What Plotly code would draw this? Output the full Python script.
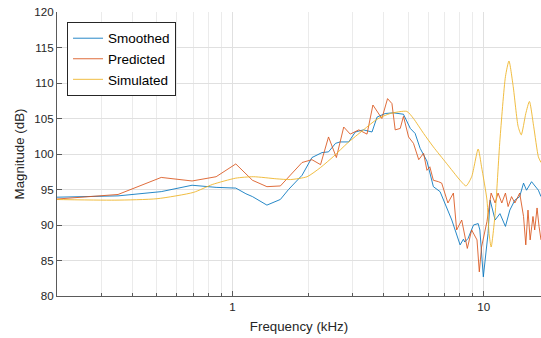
import plotly.graph_objects as go
import math

# Smoothed (blue)
smoothed_f = [0.19, 0.35, 0.52, 0.69, 0.86, 1.03, 1.13, 1.2, 1.37, 1.55, 1.67, 1.89, 2.07, 2.27, 2.41, 2.57, 2.68, 2.9,
              3.08, 3.32, 3.59, 3.76, 4.05, 4.37, 4.79, 5.10, 5.33, 5.58, 5.94, 6.30, 6.7, 7.1, 7.46, 8.05, 8.3, 8.4,
              8.66, 9.1, 9.5, 9.65, 9.96, 10.4, 10.6, 11.1, 11.6, 12.2, 12.7, 13.3, 13.9, 14.4, 14.8, 15.5, 16.0,
              16.5, 16.9]
smoothed_db = [93.9, 94.1, 94.7, 95.6, 95.3, 95.2, 94.4, 94.0, 92.8, 93.6, 95.0, 97.0, 99.5, 100.2, 100.3, 101.5, 101.7,
               101.7, 103.1, 103.4, 103.1, 105.2, 105.7, 105.8, 105.6, 103.6, 102.9, 100.8, 99.0, 95.4, 94.7, 92.6,
               90.7, 87.2, 88.0, 87.6, 88.1, 90.0, 90.2, 89.3, 82.7, 88.8, 93.5, 90.7, 91.6, 89.8, 92.1, 93.5, 94.0,
               95.9, 94.9, 96.1, 95.4, 94.9, 94.0]

# Predicted (orange)
predicted_f = [0.19, 0.35, 0.52, 0.69, 0.86, 1.03, 1.2, 1.37, 1.55, 1.89, 2.07, 2.24, 2.41, 2.59, 2.77, 2.94, 3.18,
               3.43, 3.62, 3.93, 4.14, 4.31, 4.44, 4.65, 4.79, 5.02, 5.25, 5.51, 5.76, 5.94, 6.1, 6.3, 6.6, 6.8, 7.2,
               7.57, 7.8, 8.17, 8.6, 8.95, 9.4, 9.6, 9.8, 10.3, 10.7, 11.1, 11.4, 11.8, 12.2, 12.5, 12.9, 13.3, 13.9,
               14.4, 14.7, 15.0, 15.3, 15.7, 15.95, 16.3, 16.6, 16.9]
predicted_db = [93.6, 94.3, 96.7, 96.2, 96.8, 98.6, 96.3, 95.4, 95.5, 98.8, 99.2, 98.5, 102.4, 99.5, 103.8, 102.8,
                103.4, 102.8, 106.9, 105.0, 107.8, 107.1, 103.4, 103.6, 105.3, 102.4, 101.5, 99.2, 100.1, 97.7, 98.2,
                96.3, 96.1, 95.9, 93.1, 94.5, 89.3, 90.7, 86.7, 89.3, 87.9, 83.4, 86.9, 90.5, 94.5, 93.1, 94.5, 93.1,
                94.5, 92.6, 94.0, 93.1, 94.5, 91.2, 87.2, 92.1, 87.9, 91.2, 89.3, 92.4, 89.8, 87.9]

# Simulated (yellow)
simulated_f = [0.19, 0.34, 0.5, 0.7, 0.83, 1.03, 1.21, 1.5, 1.70, 1.98, 2.24, 2.53, 2.86, 3.32, 3.76, 4.24, 4.94,
               5.25, 5.76, 6.30, 7.1, 8.05, 8.5, 8.95, 9.5, 9.8, 10.3, 10.5, 10.7, 11.1, 11.6, 12.2, 12.6, 13.1, 13.7,
               14.1, 14.7, 15.2, 15.8, 16.5, 16.9]
simulated_db = [93.6, 93.5, 93.7, 94.6, 95.7, 96.6, 96.8, 96.5, 96.4, 96.8, 98.1, 99.7, 101.5, 103.4, 104.9, 105.7,
                106.0, 105.0, 102.9, 101.0, 98.7, 96.3, 95.5, 96.8, 100.7, 98.2, 93.5, 88.8, 86.9, 91.6, 102.0, 110.9,
                113.1, 109.5, 103.9, 102.7, 105.7, 107.4, 103.9, 99.6, 98.8]

x_tickvals = [1, 10]
x_ticktext = ["1", "10"]
x_minor = [0.2, 0.3, 0.4, 0.5, 0.6, 0.7, 0.8, 0.9, 2, 3, 4, 5, 6, 7, 8, 9, 20]
y_tickvals = [80, 85, 90, 95, 100, 105, 110, 115, 120]

fig = go.Figure()
fig.add_trace(go.Scatter(x=smoothed_f, y=smoothed_db, mode="lines", name="Smoothed",
                         line=dict(color="#0072BD", width=0.85)))
fig.add_trace(go.Scatter(x=predicted_f, y=predicted_db, mode="lines", name="Predicted",
                         line=dict(color="#D95319", width=0.85)))
fig.add_trace(go.Scatter(x=simulated_f, y=simulated_db, mode="lines", name="Simulated",
                         line=dict(color="#EDB120", width=0.85, shape="spline", smoothing=0.6)))

font_family = "Liberation Sans, Arial, sans-serif"
fig.update_layout(
    width=541, height=338,
    margin=dict(l=57, r=0, t=12, b=42),
    paper_bgcolor="white", plot_bgcolor="white",
    font=dict(family=font_family, color="#262626", size=12),
    showlegend=True,
    legend=dict(x=0.0207, y=0.965, xanchor="left", yanchor="top",
                bgcolor="white", bordercolor="#262626", borderwidth=1,
                font=dict(size=13.5, color="#000000"),
                tracegroupgap=0, itemwidth=30),
)
fig.update_xaxes(
    type="log", range=[math.log10(0.2), math.log10(16.9)],
    tickvals=x_tickvals, ticktext=x_ticktext,
    showgrid=True, gridcolor="#e0e0e0", gridwidth=1,
    showline=True, linecolor="#5a5a5a", linewidth=1,
    ticks="inside", ticklen=5, tickcolor="#5a5a5a",
    tickfont=dict(size=11.6, color="#262626"),
    minor=dict(tickvals=x_minor, showgrid=True, gridcolor="#ebebeb", ticks="inside", ticklen=3,
               tickcolor="#5a5a5a"),
    title=dict(text="Frequency (kHz)", font=dict(size=13.3, color="#262626"), standoff=9),
    zeroline=False, mirror=False,
)
fig.update_yaxes(
    range=[80, 120], tickvals=y_tickvals,
    showgrid=True, gridcolor="#e0e0e0", gridwidth=1,
    showline=True, linecolor="#5a5a5a", linewidth=1,
    ticks="inside", ticklen=5, tickcolor="#5a5a5a",
    tickfont=dict(size=11.6, color="#262626"),
    title=dict(text="Magnitude (dB)", font=dict(size=13.3, color="#262626"), standoff=6),
    zeroline=False, mirror=False,
)

fig.write_html("out.html")
